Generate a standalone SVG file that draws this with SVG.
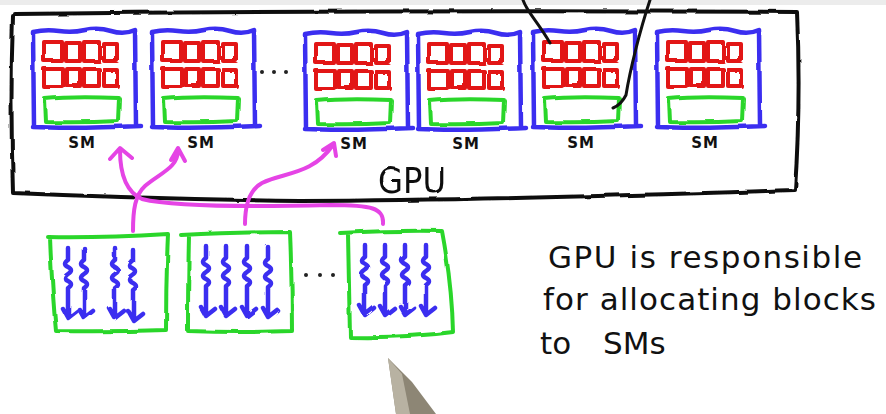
<svg xmlns="http://www.w3.org/2000/svg" xmlns:xlink="http://www.w3.org/1999/xlink" width="886" height="414" viewBox="0 0 886 414">
<style>
.blk{fill:none;stroke:#111;stroke-width:4;stroke-linecap:round;stroke-linejoin:round}
.thin{fill:none;stroke:#111;stroke-width:3;stroke-linecap:round}
.blue{fill:none;stroke:#3b2ef0;stroke-width:4.5;stroke-linecap:round;stroke-linejoin:round}
.red{fill:none;stroke:#e21414;stroke-width:4;stroke-linejoin:round}
.grn{fill:none;stroke:#2ad62a;stroke-width:4;stroke-linejoin:round;stroke-linecap:round}
.mag{fill:none;stroke:#e544e5;stroke-width:4;stroke-linecap:round;stroke-linejoin:round}
.sm{font-family:"DejaVu Sans","Liberation Sans",sans-serif;font-weight:bold;font-size:15px;fill:#111;text-anchor:middle;letter-spacing:1px}
.hand{font-family:"DejaVu Sans","Liberation Sans",sans-serif;font-size:31px;fill:#111}
.dot{fill:#222}
</style>
<defs>
<filter id="rough" x="-5%" y="-5%" width="110%" height="110%">
<feTurbulence type="fractalNoise" baseFrequency="0.04" numOctaves="2" seed="3"/>
<feDisplacementMap in="SourceGraphic" scale="3"/>
</filter>
<g id="smbody">
<path class="blue" d="M1,96 L0,2 Q13,-1 26,1 T52,0 T78,1 T102,0 L103,96 M0,97 Q40,99 108,96"/>
<path class="red" d="M11,12 h18 v19 h-18 z M33,13 h14 v18 h-14 z M51,12 h15 v19 h-15 z M71,14 h13 v17 h-13 z M11,39 h19 v18 h-19 z M34,39 h13 v17 h-13 z M51,39 h15 v17 h-15 z M71,40 h13 v16 h-13 z"/>
<path class="grn" d="M12,69 Q40,66 86,68 L85,91 Q50,93 13,92 Z"/>
</g>
<path id="thread" d="M0,0 L0,12 q-6,4 0,7 q6,3 0,7 q-6,4 0,7 q6,3 0,7 L0,69 M-5,61 L0,70 L9,63"/>
</defs>

<rect x="0" y="0" width="886" height="5" fill="#ececec"/>

<g id="gpu" filter="url(#rough)">
<path class="blk" d="M15,14 Q400,10 797,12 Q801,100 795,190 Q500,200 300,201 Q150,199 13,193 Q10,100 13,16"/>
<text x="378" y="193" font-family="'DejaVu Sans','Liberation Sans',sans-serif" font-size="36" fill="#111" textLength="68" lengthAdjust="spacingAndGlyphs">GPU</text>
</g>

<g id="sm1"><use xlink:href="#smbody" transform="translate(33,30)" filter="url(#rough)"/><text class="sm" x="82" y="148">SM</text></g>
<g id="sm2"><use xlink:href="#smbody" transform="translate(152,30)" filter="url(#rough)"/><text class="sm" x="201" y="148">SM</text></g>
<g id="sm3"><use xlink:href="#smbody" transform="translate(305,32)" filter="url(#rough)"/><text class="sm" x="354" y="149">SM</text></g>
<g id="sm4"><use xlink:href="#smbody" transform="translate(418,32)" filter="url(#rough)"/><text class="sm" x="466" y="149">SM</text></g>
<g id="sm5"><use xlink:href="#smbody" transform="translate(533,30)" filter="url(#rough)"/><text class="sm" x="581" y="148">SM</text></g>
<g id="sm6"><use xlink:href="#smbody" transform="translate(657,30)" filter="url(#rough)"/><text class="sm" x="705" y="148">SM</text></g>

<g id="sm-dots"><circle class="dot" cx="262" cy="72" r="2"/><circle class="dot" cx="274" cy="72" r="2"/><circle class="dot" cx="286" cy="72" r="2"/></g>

<g id="block1" filter="url(#rough)">
<path class="grn" d="M48,237 Q100,238 168,234 Q166,280 166,330 Q110,332 56,331 Q52,290 50,237"/>
<g class="blue"><use xlink:href="#thread" x="68" y="248"/><use xlink:href="#thread" x="84" y="248"/><use xlink:href="#thread" x="115" y="248"/><use xlink:href="#thread" x="133" y="250"/></g>
</g>
<g id="block2" filter="url(#rough)">
<path class="grn" d="M181,235 Q240,232 290,232 Q292,280 292,331 Q240,333 188,331 Q188,280 189,236"/>
<g class="blue"><use xlink:href="#thread" x="206" y="246"/><use xlink:href="#thread" x="226" y="246"/><use xlink:href="#thread" x="247" y="246"/><use xlink:href="#thread" x="268" y="247"/></g>
</g>
<g id="block-dots"><circle class="dot" cx="306" cy="275" r="2"/><circle class="dot" cx="320" cy="275" r="2"/><circle class="dot" cx="333" cy="275" r="2"/></g>
<g id="block3" filter="url(#rough)">
<path class="grn" d="M340,233 Q400,230 442,231 Q452,285 453,332 Q410,338 350,337 Q349,285 348,234"/>
<g class="blue"><use xlink:href="#thread" x="365" y="245"/><use xlink:href="#thread" x="385" y="245"/><use xlink:href="#thread" x="405" y="245"/><use xlink:href="#thread" x="426" y="245"/></g>
</g>

<g id="connectors" class="mag">
<path d="M133,231 C133,210 135,195 145,186 C160,173 178,168 178,150 M171,160 L178,148 L185,161"/>
<path d="M383,224 C384,208 372,205 330,205 C250,207 170,206 142,199 C124,191 120,170 120,150 M110,159 L120,148 L132,158"/>
<path d="M245,224 C245,205 249,190 262,183 C285,172 312,175 333,145 M323,150 L334,143 L336,156"/>
</g>

<g id="pointer-lines" class="thin">
<path d="M523,0 C527,12 538,22 550,43"/>
<path d="M650,0 C640,30 630,70 626,95 C622,103 618,106 613,108"/>
</g>

<g id="note">
<text class="hand" x="548" y="268" textLength="314" lengthAdjust="spacing">GPU is responsible</text>
<text class="hand" x="543" y="310" textLength="333" lengthAdjust="spacing">for allocating blocks</text>
<text class="hand" x="540" y="354" word-spacing="22">to SMs</text>
</g>

<g id="pen">
<path d="M388,358 L412,382 L436,414 L396,414 Z" fill="#8d8675"/>
<path d="M388,358 L402,374 L410,414 L396,414 Z" fill="#b8b2a2"/>
</g>
</svg>
